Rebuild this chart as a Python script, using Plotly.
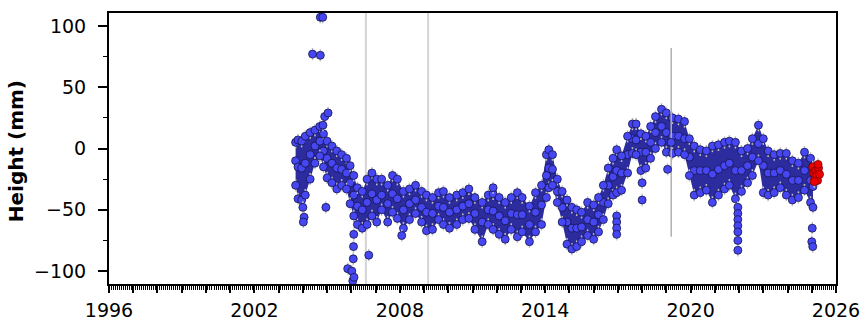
import plotly.graph_objects as go

# ---- data (decimal year, height in mm) ----
band_year = [2003.70, 2003.80, 2003.95, 2004.10, 2004.30, 2004.50, 2004.70, 2004.85, 2005.00, 2005.20,
             2005.40, 2005.60, 2005.80, 2005.95, 2006.10, 2006.25, 2006.45, 2006.65, 2006.85, 2007.05,
             2007.25, 2007.50, 2007.70, 2007.90, 2008.15, 2008.40, 2008.65, 2008.90, 2009.10, 2009.35,
             2009.60, 2009.80, 2010.05, 2010.35, 2010.60, 2010.85, 2011.10, 2011.40, 2011.65, 2011.85,
             2012.10, 2012.35, 2012.60, 2012.85, 2013.05, 2013.35, 2013.60, 2013.85, 2014.05, 2014.15,
             2014.30, 2014.50, 2014.70, 2014.90, 2015.10, 2015.30, 2015.50, 2015.75, 2016.00, 2016.20,
             2016.40, 2016.60, 2016.80, 2016.95, 2017.15, 2017.40, 2017.60, 2017.75, 2017.95, 2018.15,
             2018.35, 2018.55, 2018.80, 2019.00, 2019.25, 2019.50, 2019.75, 2019.95, 2020.15, 2020.40,
             2020.65, 2020.90, 2021.15, 2021.40, 2021.60, 2021.85, 2022.10, 2022.35, 2022.55, 2022.80,
             2023.00, 2023.20, 2023.45, 2023.70, 2023.95, 2024.20, 2024.45, 2024.70, 2024.95, 2025.05]
band_hi = [5, 7, 6, 10, 13, 15, 18, 12, 6, 2,
           -2, -5, -8, -14, -22, -32, -35, -25, -20, -25,
           -25, -30, -22, -25, -35, -33, -30, -35, -38, -40,
           -36, -35, -40, -38, -36, -33, -40, -44, -38, -37,
           -40, -44, -40, -36, -40, -47, -36, -30, -5, -1,
           -5, -25, -35, -42, -48, -50, -52, -44, -46, -40,
           -30, -16, -8, -1, -6, 10, 20, 20, 12, 10,
           18, 26, 32, 29, 25, 24, 22, 8, 2, -1,
           -2, 2, 3, 5, 6, 5, -2, 0, 8, 19,
           8, -2, -5, -4, -4, -10, -12, -3, -8, -14]
band_mid = [-10, -15, -16, -12, -5, 2, 6, -2, -8, -12,
            -16, -17, -20, -28, -38, -47, -50, -44, -37, -42,
            -38, -45, -37, -41, -50, -45, -42, -48, -52, -53,
            -47, -48, -52, -50, -47, -45, -53, -60, -50, -51,
            -55, -59, -53, -54, -54, -62, -52, -46, -22, -16,
            -17, -35, -48, -60, -65, -65, -64, -58, -60, -54,
            -44, -30, -23, -18, -20, -5, 8, 7, -3, -3,
            5, 13, 18, 13, 10, 10, 8, -7, -18, -18,
            -18, -21, -17, -14, -12, -18, -18, -14, -7, 4,
            -14, -20, -20, -18, -21, -26, -26, -18, -26, -31]
band_lo = [-30, -41, -42, -38, -25, -12, -6, -15, -24, -28,
           -33, -30, -33, -45, -55, -62, -65, -62, -55, -60,
           -50, -60, -52, -57, -65, -58, -53, -60, -67, -66,
           -58, -62, -65, -62, -58, -57, -66, -76, -62, -66,
           -70, -74, -66, -72, -68, -76, -68, -62, -40, -32,
           -30, -44, -60, -78, -82, -80, -76, -71, -74, -68,
           -58, -45, -38, -36, -34, -20, -4, -5, -18, -16,
           -8, 0, 5, -3, -4, -3, -5, -22, -38, -36,
           -34, -44, -38, -33, -30, -41, -35, -28, -22, -10,
           -36, -38, -36, -32, -38, -42, -40, -34, -44, -48]
band_err = 5

outlier_year = [2004.40, 2004.72, 2004.72, 2004.82, 2004.83, 2004.90, 2005.04, 2004.95,
                2004.00, 2004.05, 2004.02, 2005.85, 2006.02, 2006.06, 2006.08, 2006.09,
                2006.10, 2006.11, 2006.72, 2008.08, 2011.85, 2016.95, 2016.95, 2016.95,
                2016.95, 2018.00, 2018.00, 2019.05, 2021.95, 2021.95, 2021.95, 2021.95,
                2021.95, 2021.95, 2021.95, 2025.02, 2025.00, 2025.04]
outlier_mm = [77, 76, 107, 107, 19, 26, 29, -48,
              -48, -56, -60, -98, -100, -108, -90, -80,
              -70, -105, -87, -71, -32, -55, -60, -65,
              -70, -28, -42, -17, -48, -53, -58, -63,
              -68, -75, -83, -65, -76, -80]

noisy_year = [2019.20]
noisy_mm = [5]
noisy_err = [77]

recent_year = [2025.04, 2025.08, 2025.12, 2025.16, 2025.20, 2025.24, 2025.28, 2025.32, 2025.10, 2025.26]
recent_mm = [-15, -20, -25, -18, -22, -26, -16, -21, -27, -13]

event_years = [2006.6, 2009.17]

x_ticks = list(range(1996, 2027))
x_labels = [str(y) if (y - 1996) % 6 == 0 else "" for y in x_ticks]
y_ticks = [-100, -50, 0, 50, 100]

BLUE = "#4646f2"
EDGE = "#14144a"
ERR = "#c4c4c4"

fig = go.Figure()

# band fill (dense overlapping markers)
fig.add_trace(go.Scatter(x=band_year, y=band_hi, mode="lines", line=dict(width=0, color="#2f2fa6"),
                         hoverinfo="skip", showlegend=False))
fig.add_trace(go.Scatter(x=band_year, y=band_lo, mode="lines", line=dict(width=0, color="#2f2fa6"),
                         fill="tonexty", fillcolor="#2c2c9e", hoverinfo="skip", showlegend=False))

marker = dict(size=8, color=BLUE, line=dict(color=EDGE, width=0.8))
err = dict(type="constant", value=band_err, color=ERR, thickness=1.5, width=0)

fig.add_trace(go.Scatter(x=band_year, y=band_mid, mode="markers", marker=marker, showlegend=False))
for ys in (band_hi, band_lo):
    fig.add_trace(go.Scatter(x=band_year, y=ys, mode="markers", marker=marker,
                             error_y=err, showlegend=False))

fig.add_trace(go.Scatter(x=noisy_year, y=noisy_mm, mode="markers", marker=marker,
                         error_y=dict(type="data", array=noisy_err, color="#b0b0b0", thickness=1.5, width=0),
                         showlegend=False))
fig.add_trace(go.Scatter(x=outlier_year, y=outlier_mm, mode="markers", marker=marker,
                         error_y=err, showlegend=False))
fig.add_trace(go.Scatter(x=recent_year, y=recent_mm, mode="markers",
                         marker=dict(size=8, color="#ee0000", line=dict(color="#7a0000", width=0.8)),
                         error_y=err, showlegend=False))

for ev in event_years:
    fig.add_shape(type="line", x0=ev, x1=ev, y0=0, y1=1, xref="x", yref="paper",
                  line=dict(color="#d4d4d4", width=2), layer="below")

font = dict(family="DejaVu Sans", size=19, color="black")

fig.update_layout(
    width=866, height=321,
    margin=dict(l=109, r=30, t=13, b=37, autoexpand=False),
    paper_bgcolor="white", plot_bgcolor="white",
    font=font,
    xaxis=dict(range=[1996, 2026], tickvals=x_ticks, ticktext=x_labels, automargin=False,
               ticks="outside", ticklen=7, tickwidth=1.5, tickcolor="black", ticklabelstandoff=1,
               minor=dict(dtick=1 / 12, ticks="outside", ticklen=4, tickwidth=1, tickcolor="black"),
               showgrid=False, zeroline=False, showline=True, linecolor="black", linewidth=2,
               mirror=True, tickfont=font),
    yaxis=dict(range=[-110.5, 110.5], tickvals=y_ticks, automargin=False,
               ticks="outside", ticklen=9, tickwidth=1.5, tickcolor="black", ticklabelstandoff=8,
               minor=dict(dtick=25, ticks="outside", ticklen=4, tickwidth=1, tickcolor="black"),
               showgrid=False, zeroline=False, showline=True, linecolor="black", linewidth=2,
               mirror=True, tickfont=font),
    annotations=[dict(text="<b>Height (mm)</b>", textangle=-90, xref="paper", yref="paper",
                      x=(16 - 109) / 727, y=0.49, xanchor="center", yanchor="middle",
                      showarrow=False, font=dict(family="DejaVu Sans", size=20, color="black"))],
)

# write the page with plotly.js inline, removing the browser's default body margin
html = fig.to_html(full_html=True, include_plotlyjs=True, config={"displayModeBar": False})
html = html.replace("<body>", '<body style="margin:0;overflow:hidden">', 1)
with open("out.html", "w", encoding="utf-8") as f:
    f.write(html)
